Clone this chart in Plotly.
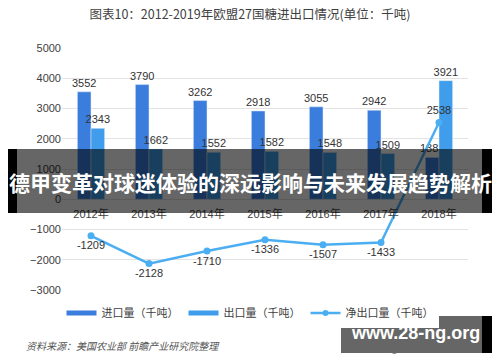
import plotly.graph_objects as go

years = ["2012年", "2013年", "2014年", "2015年", "2016年", "2017年", "2018年"]
imports = [3552, 3790, 3262, 2918, 3055, 2942, 1383]
exports = [2343, 1662, 1552, 1582, 1548, 1509, 3921]
net = [-1209, -2128, -1710, -1336, -1507, -1433, 2538]
net_pos = ["bottom center"] * 6 + ["top center"]

W, H = 500, 362
ML, MR, MT, MB = 62, 32, 48, 72
PW, PH = W - ML - MR, H - MT - MB

def px(x):
    return (x - ML) / PW

def py(y):
    return (H - MB - y) / PH

FONT = "Liberation Sans, Noto Sans CJK SC, sans-serif"
C_IMP, C_EXP, C_NET = "#3A7DDD", "#3F9DEC", "#4BAEF2"

fig = go.Figure()
fig.add_bar(x=years, y=imports, name="进口量（千吨）", marker_color=C_IMP,
            text=imports, textposition="outside", constraintext="none",
            textfont=dict(size=11, color="#333"), cliponaxis=False, showlegend=False)
fig.add_bar(x=years, y=exports, name="出口量（千吨）", marker_color=C_EXP,
            text=exports, textposition="outside", constraintext="none",
            textfont=dict(size=11, color="#333"), cliponaxis=False, showlegend=False)
fig.add_scatter(x=years, y=net, name="净出口量（千吨）", mode="lines+markers+text",
                line=dict(color=C_NET, width=2.5), marker=dict(size=7, color=C_NET),
                text=net, textposition=net_pos, textfont=dict(size=11, color="#333"),
                cliponaxis=False, showlegend=False)
# legend entries (wide flat swatches as in the reference)
fig.add_scatter(x=[None], y=[None], mode="lines", name="进口量（千吨）",
                line=dict(color=C_IMP, width=5), legendrank=1)
fig.add_scatter(x=[None], y=[None], mode="lines", name="出口量（千吨）",
                line=dict(color=C_EXP, width=5), legendrank=2)
fig.add_scatter(x=[None], y=[None], mode="lines+markers", name="净出口量（千吨）",
                line=dict(color=C_NET, width=2.5), marker=dict(size=6, color=C_NET),
                legendrank=3)

shapes = []
# banner overlay
shapes.append(dict(type="rect", xref="paper", yref="paper", x0=px(17), x1=px(482),
                   y0=py(213), y1=py(149), fillcolor="rgba(0,0,0,0.6)", line_width=0))
shapes.append(dict(type="rect", xref="paper", yref="paper", x0=px(8), x1=px(17),
                   y0=py(213), y1=py(149), fillcolor="black", line_width=0))
shapes.append(dict(type="rect", xref="paper", yref="paper", x0=px(482), x1=px(492),
                   y0=py(213), y1=py(149), fillcolor="black", line_width=0))
# watermark box
shapes.append(dict(type="rect", xref="paper", yref="paper", x0=px(341), x1=px(482),
                   y0=py(353), y1=py(316), fillcolor="rgba(0,0,0,0.6)", line_width=0))
shapes.append(dict(type="rect", xref="paper", yref="paper", x0=px(482), x1=px(492),
                   y0=py(353), y1=py(316), fillcolor="black", line_width=0))

annotations = [
    dict(text="<i>资料来源：美国农业部 前瞻产业研究院整理</i>", xref="paper", yref="paper",
         x=px(24), y=py(345), xanchor="left", yanchor="middle", showarrow=False,
         font=dict(size=10, color="#555", family="Noto Sans CJK SC")),
    dict(text="@前瞻经济学人APP", xref="paper", yref="paper",
         x=px(480), y=py(347), xanchor="right", yanchor="middle", showarrow=False,
         font=dict(size=10, color="#666", family="Noto Sans CJK SC")),
    dict(text="<b>德甲变革对球迷体验的深远影响与未来发展趋势解析</b>", xref="paper", yref="paper",
         x=px(250), y=py(182), xanchor="center", yanchor="middle", showarrow=False,
         font=dict(size=21, color="white", family="Noto Sans CJK SC")),
    dict(text="<b>www.28-ng.org</b>", xref="paper", yref="paper",
         x=px(415), y=py(333), xanchor="center", yanchor="middle", showarrow=False,
         font=dict(size=18, color="white", family="Liberation Sans, sans-serif")),
]

fig.update_layout(
    width=W, height=H,
    margin=dict(l=ML, r=MR, t=MT, b=MB),
    paper_bgcolor="white", plot_bgcolor="white",
    font=dict(family=FONT, size=11, color="#595959"),
    title=dict(text="图表10：2012-2019年欧盟27国糖进出口情况(单位：千吨)",
               x=0.5, xref="container", xanchor="center",
               y=1 - 15 / H, yref="container", yanchor="middle",
               font=dict(size=12.5, color="#404040", family="Noto Sans CJK SC")),
    barmode="group", bargap=0.53, bargroupgap=0,
    showlegend=True,
    legend=dict(orientation="h", x=px(250), xanchor="center", y=py(313), yanchor="middle",
                font=dict(size=11, color="#404040", family="Noto Sans CJK SC"),
                itemwidth=30, traceorder="normal"),
    xaxis=dict(anchor="free", position=3 / 8, showline=False, ticks="",
               ticklabelstandoff=7,
               tickfont=dict(size=11, color="#404040"), showgrid=False),
    yaxis=dict(range=[-3000, 5000], dtick=1000, showgrid=True, gridcolor="#E3E3E3",
               zeroline=True, zerolinecolor="#E3E3E3", zerolinewidth=1,
               tickfont=dict(size=11, color="#404040"), showline=False, ticks=""),
    shapes=shapes, annotations=annotations,
)

fig.write_html("out.html", config={"displayModeBar": False},
               post_script="document.body.style.margin='0';")
